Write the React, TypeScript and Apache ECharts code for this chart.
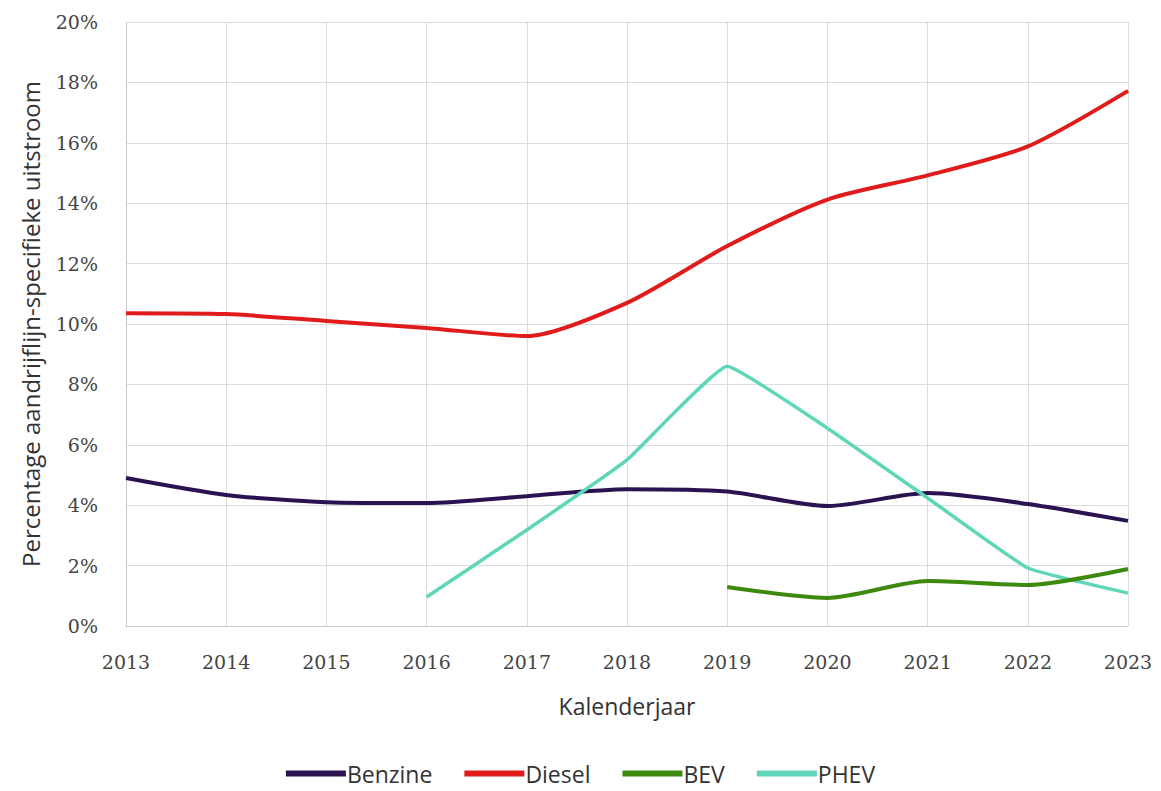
import React, { useEffect, useRef } from "react";
import * as echarts from "echarts";

const years = ["2013", "2014", "2015", "2016", "2017", "2018", "2019", "2020", "2021", "2022", "2023"];
const benzine = [4.9, 4.34, 4.1, 4.07, 4.3, 4.53, 4.45, 3.97, 4.4, 4.04, 3.48];
const diesel = [10.36, 10.33, 10.1, 9.87, 9.6, 10.7, 12.58, 14.12, 14.92, 15.88, 17.72];
const bev = [null, null, null, null, null, null, 1.29, 0.93, 1.49, 1.36, 1.89];
const phev = [null, null, null, 0.96, 3.18, 5.5, 8.6, 6.55, 4.24, 1.92, 1.09];

const seriesNames = ["Benzine", "Diesel", "BEV", "PHEV"];
const seriesColors = ["#2b1250", "#e01b1b", "#3d8a0f", "#5fd6b8"];

export default function App() {
  const ref = useRef<HTMLDivElement>(null);
  useEffect(() => {
    document.body.style.margin = "0";
    const chart = echarts.init(ref.current!, null, { renderer: "svg" });
    const dataSets = [benzine, diesel, bev, phev];
    const tickFont = "'DejaVu Serif', serif";
    const textFont = "'Open Sans', Lato, sans-serif";
    chart.setOption({
      animation: false,
      backgroundColor: "#ffffff",
      grid: { left: 126, right: 33, top: 22, bottom: 165, containLabel: false },
      legend: {
        bottom: 1,
        left: "center",
        icon: "rect",
        itemWidth: 60,
        itemHeight: 6,
        itemGap: 32,
        textStyle: { fontFamily: textFont, fontSize: 23, color: "#333", padding: [0, 0, 0, -4] },
        data: seriesNames,
      },
      xAxis: {
        type: "category",
        data: years,
        boundaryGap: false,
        name: "Kalenderjaar",
        nameLocation: "middle",
        nameGap: 68,
        nameTextStyle: { fontFamily: textFont, fontSize: 23, color: "#333" },
        axisLine: { lineStyle: { color: "#c8c8c8", width: 1 } },
        axisTick: { show: false },
        axisLabel: { fontFamily: tickFont, fontSize: 19, color: "#444", margin: 26 },
        splitLine: { show: true, lineStyle: { color: "#dcdcdc", width: 1 } },
      },
      yAxis: {
        type: "value",
        min: 0,
        max: 20,
        interval: 2,
        name: "Percentage aandrijflijn-specifieke uitstroom",
        nameLocation: "middle",
        nameGap: 84,
        nameTextStyle: { fontFamily: textFont, fontSize: 24, color: "#333" },
        axisLine: { show: true, lineStyle: { color: "#c8c8c8", width: 1 } },
        axisTick: { show: false },
        axisLabel: { fontFamily: tickFont, fontSize: 19, color: "#444", margin: 28, formatter: "{value}%" },
        splitLine: { show: true, lineStyle: { color: "#dcdcdc", width: 1 } },
      },
      series: seriesNames.map((n, i) => ({
        name: n,
        type: "line",
        data: dataSets[i],
        showSymbol: false,
        symbol: "none",
        smooth: n === "PHEV" ? 0.1 : 0.25,
        connectNulls: false,
        lineStyle: { color: seriesColors[i], width: n === "PHEV" ? 3.5 : 4 },
        itemStyle: { color: seriesColors[i] },
        z: n === "BEV" ? 4 : 3,
      })),
    });
    return () => chart.dispose();
  }, []);
  return <div ref={ref} style={{ width: 1161, height: 791 }} />;
}
